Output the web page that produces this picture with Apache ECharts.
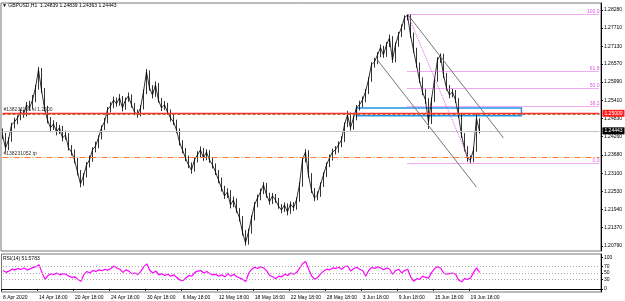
<!DOCTYPE html>
<html>
<head>
<meta charset="utf-8">
<script src="https://cdn.jsdelivr.net/npm/echarts@6/dist/echarts.min.js"></script>
<style>html,body{margin:0;padding:0;background:#fff}#main{width:625px;height:301px}</style>
</head>
<body>
<div id="main"></div>
<script>
// GBPUSD H1 chart, each point = 8 hours
const dateLabels = ['8 Apr 2020', '14 Apr 18:00', '20 Apr 18:00', '24 Apr 18:00', '30 Apr 18:00', '6 May 18:00', '12 May 18:00',
  '18 May 18:00', '22 May 18:00', '28 May 18:00', '3 Jun 18:00', '9 Jun 18:00', '15 Jun 18:00', '19 Jun 18:00'];
const firstOpen = 1.2440;
const closes = [1.2431,1.2390,1.2415,1.2463,1.2473,1.2485,1.2504,1.2495,1.2527,1.2517,
 1.2542,1.2581,1.2638,1.2574,1.2517,1.2479,1.2454,1.2466,1.2441,1.2454,
 1.2422,1.2431,1.2390,1.2377,1.2352,1.2314,1.2276,1.2301,1.2336,1.2352,
 1.2384,1.2396,1.2422,1.2454,1.2473,1.2511,1.2523,1.2542,1.2530,1.2549,
 1.2517,1.2542,1.2555,1.2527,1.2504,1.2495,1.2517,1.2568,1.2631,1.2581,
 1.2558,1.2590,1.2542,1.2517,1.2527,1.2504,1.2485,1.2473,1.2447,1.2409,
 1.2384,1.2358,1.2336,1.2320,1.2352,1.2368,1.2384,1.2358,1.2377,1.2352,
 1.2336,1.2314,1.2289,1.2263,1.2238,1.2250,1.2209,1.2225,1.2193,1.2168,
 1.2123,1.2089,1.2123,1.2168,1.2209,1.2231,1.2250,1.2273,1.2241,1.2219,
 1.2238,1.2225,1.2206,1.2193,1.2209,1.2187,1.2212,1.2200,1.2225,1.2273,
 1.2352,1.2377,1.2304,1.2257,1.2231,1.2241,1.2273,1.2304,1.2336,1.2358,
 1.2377,1.2384,1.2400,1.2415,1.2463,1.2495,1.2454,1.2485,1.2517,1.2527,
 1.2542,1.2568,1.2606,1.2654,1.2663,1.2685,1.2708,1.2685,1.2717,1.2739,
 1.2669,1.2717,1.2749,1.2771,1.2803,1.2812,1.2749,1.2701,1.2654,1.2606,
 1.2568,1.2542,1.2473,1.2542,1.2606,1.2669,1.2685,1.2622,1.2581,1.2558,
 1.2568,1.2542,1.2495,1.2431,1.2390,1.2358,1.2352,1.2384,1.2484,1.2444];
const highs = [1.2452,1.2438,1.2424,1.2470,1.2486,1.2494,1.2515,1.2511,1.2536,1.2540,
 1.2558,1.2590,1.2647,1.2644,1.2580,1.2524,1.2488,1.2478,1.2472,1.2463,
 1.2460,1.2445,1.2437,1.2399,1.2385,1.2358,1.2320,1.2310,1.2345,1.2366,
 1.2392,1.2410,1.2430,1.2462,1.2485,1.2520,1.2536,1.2553,1.2550,1.2561,
 1.2555,1.2550,1.2566,1.2560,1.2533,1.2512,1.2526,1.2575,1.2640,1.2636,
 1.2589,1.2601,1.2596,1.2549,1.2539,1.2533,1.2512,1.2496,1.2480,1.2452,
 1.2415,1.2390,1.2366,1.2344,1.2360,1.2380,1.2395,1.2390,1.2386,1.2383,
 1.2360,1.2341,1.2320,1.2296,1.2270,1.2262,1.2256,1.2236,1.2230,1.2199,
 1.2174,1.2130,1.2134,1.2176,1.2218,1.2242,1.2261,1.2282,1.2279,1.2248,
 1.2247,1.2244,1.2231,1.2212,1.2217,1.2214,1.2220,1.2218,1.2233,1.2282,
 1.2361,1.2386,1.2383,1.2310,1.2263,1.2252,1.2281,1.2313,1.2344,1.2369,
 1.2388,1.2396,1.2411,1.2427,1.2471,1.2508,1.2502,1.2493,1.2526,1.2540,
 1.2553,1.2577,1.2615,1.2662,1.2676,1.2694,1.2718,1.2714,1.2726,1.2750,
 1.2745,1.2725,1.2758,1.2782,1.2811,1.2815,1.2814,1.2756,1.2708,1.2661,
 1.2614,1.2577,1.2548,1.2550,1.2614,1.2678,1.2690,1.2689,1.2628,1.2590,
 1.2578,1.2574,1.2548,1.2501,1.2437,1.2396,1.2366,1.2392,1.2498,1.2484];
const lows = [1.2418,1.2378,1.2383,1.2410,1.2452,1.2465,1.2478,1.2486,1.2490,1.2508,
 1.2512,1.2535,1.2575,1.2565,1.2506,1.2468,1.2440,1.2447,1.2430,1.2434,
 1.2411,1.2416,1.2382,1.2366,1.2341,1.2303,1.2265,1.2270,1.2296,1.2328,
 1.2346,1.2376,1.2389,1.2417,1.2447,1.2468,1.2503,1.2516,1.2521,1.2524,
 1.2506,1.2511,1.2536,1.2518,1.2494,1.2486,1.2490,1.2512,1.2561,1.2572,
 1.2547,1.2552,1.2534,1.2507,1.2510,1.2495,1.2474,1.2463,1.2437,1.2398,
 1.2373,1.2348,1.2326,1.2308,1.2315,1.2344,1.2360,1.2349,1.2351,1.2343,
 1.2325,1.2304,1.2278,1.2252,1.2228,1.2231,1.2198,1.2202,1.2184,1.2156,
 1.2112,1.2080,1.2083,1.2118,1.2160,1.2202,1.2224,1.2244,1.2232,1.2210,
 1.2212,1.2216,1.2197,1.2183,1.2187,1.2176,1.2181,1.2190,1.2194,1.2219,
 1.2267,1.2344,1.2296,1.2247,1.2221,1.2224,1.2235,1.2266,1.2298,1.2329,
 1.2350,1.2369,1.2375,1.2392,1.2409,1.2456,1.2445,1.2448,1.2478,1.2509,
 1.2519,1.2535,1.2561,1.2600,1.2645,1.2656,1.2678,1.2676,1.2679,1.2710,
 1.2660,1.2662,1.2711,1.2742,1.2765,1.2795,1.2740,1.2692,1.2645,1.2596,
 1.2558,1.2530,1.2450,1.2466,1.2536,1.2600,1.2660,1.2612,1.2572,1.2548,
 1.2551,1.2533,1.2485,1.2422,1.2379,1.2346,1.2342,1.2345,1.2378,1.2436];
const rsiValues = [58,52,56,62,60,64,61,66,60,63,
 67,70,76,52,30,42,48,45,50,44,
 48,46,40,36,38,30,24,45,55,50,
 58,55,60,57,62,59,64,72,66,62,
 52,60,56,48,50,45,55,70,79,58,
 50,56,44,48,42,46,40,44,36,28,
 26,34,42,40,52,56,58,50,55,48,
 44,46,40,44,38,48,40,46,38,34,
 30,23,50,62,68,64,70,66,56,42,
 38,32,40,38,46,42,50,46,52,66,
 80,86,62,40,30,36,48,56,62,60,
 66,64,68,62,70,72,56,64,68,62,
 58,40,58,68,64,70,66,60,66,62,
 46,58,62,50,58,62,38,24,32,30,
 40,36,34,52,64,70,66,50,46,48,
 50,46,28,22,32,30,34,52,66,51.5783];
const priceTicks = [1.20790, 1.21370, 1.21940, 1.22530, 1.23100, 1.23680, 1.24260, 1.24830, 1.25410, 1.25990, 1.26570, 1.27130, 1.27710, 1.28280];
const rsiTicks = [0, 30, 50, 70, 100];
const rsiLevels = [30, 50, 70];
const lastBar = [1.24839, 1.24839, 1.24363, 1.24443];
// order lines
const slPrice = 1.2500, entryPrice = 1.2496, tpPrice = 1.2360, bidPrice = 1.24443;
// fibo + channel objects: [index, price]
const fibLevels = [0, 38.2, 50, 61.8, 100];
const fibHigh = [135, 1.2815], fibLow = [156, 1.2342], fibEnd = 199;
const channelUpper = [[135, 1.2815], [167, 1.2422]];
const channelLower = [[125, 1.2669], [158, 1.2266]];
const boxRect = [[118, 1.2517], [173, 1.2492]];

const barCount = 200;
const labelStep = 12;
const cats = Array.from({length: barCount}, (_, i) => 'b' + i);
const labelAt = i => (i % labelStep === 0 ? dateLabels[i / labelStep] : undefined);

const kData = closes.map((c, i) => [i === 0 ? firstOpen : closes[i - 1], c, lows[i], highs[i]]);

const FONT = 'Liberation Sans';
const fibColor = '#e255e2';
const noLabel = {show: false};

// full-width horizontal line from first to last category
function hLine(price, lineStyle, label) {
  return [{coord: [0, price], lineStyle: lineStyle, label: label || noLabel}, {coord: [barCount - 1, price]}];
}

const fibLines = fibLevels.map(lv => {
  const p = fibLow[1] + (fibHigh[1] - fibLow[1]) * lv / 100;
  return [
    {coord: [fibHigh[0], p], lineStyle: {color: fibColor, type: [1, 1], width: 1},
      label: {show: true, position: 'insideEndTop', formatter: lv.toFixed(1), color: fibColor, fontSize: 5, fontFamily: FONT, distance: 0}},
    {coord: [fibEnd, p]}
  ];
});

const rightTag = (text, bg) => ({show: true, position: 'end', formatter: text, backgroundColor: bg, color: '#fff',
  fontSize: 5, padding: [1, 2], distance: 3, fontFamily: FONT});
const leftTag = text => ({show: true, position: 'insideStartTop', formatter: text, color: '#333', fontSize: 5, distance: 1, fontFamily: FONT});

const chart = echarts.init(document.getElementById('main'));
chart.setOption({
  animation: false,
  backgroundColor: '#fff',
  textStyle: {fontFamily: FONT},
  title: [
    {text: '▼ GBPUSD,H1  ' + lastBar.map(v => v.toFixed(5)).join(' '), left: 2, top: 3, padding: 0,
      textStyle: {fontSize: 5, fontWeight: 'normal', color: '#000', fontFamily: FONT}},
    {text: 'RSI(14) ' + rsiValues[rsiValues.length - 1].toFixed(4), left: 3, top: 256, padding: 0,
      textStyle: {fontSize: 5, fontWeight: 'normal', color: '#000', fontFamily: FONT}}
  ],
  grid: [
    {left: 1, right: 24, top: 3, height: 248, show: true, borderColor: '#777', borderWidth: 1},
    {left: 1, right: 24, top: 254, height: 38, show: true, borderColor: '#777', borderWidth: 1}
  ],
  xAxis: [
    {gridIndex: 0, type: 'category', data: cats, boundaryGap: true,
      axisLine: {show: false}, axisTick: {show: false}, axisLabel: {show: false}},
    {gridIndex: 1, type: 'category', data: cats, boundaryGap: true,
      axisLine: {show: true, lineStyle: {color: '#000'}},
      axisTick: {show: true, length: 2, interval: i => labelAt(i) !== undefined, lineStyle: {color: '#000'}},
      axisLabel: {interval: i => labelAt(i) !== undefined, formatter: (v, i) => labelAt(i) || '',
        fontSize: 5, color: '#000', align: 'left', margin: 3, fontFamily: FONT}}
  ],
  yAxis: [
    {gridIndex: 0, type: 'value', position: 'right', min: 1.2063, max: 1.2850,
      splitLine: {show: false},
      axisLine: {show: true, lineStyle: {color: '#000'}},
      axisTick: {show: true, length: 2, customValues: priceTicks, lineStyle: {color: '#000'}},
      axisLabel: {customValues: priceTicks, formatter: v => v.toFixed(5), fontSize: 5, color: '#000', margin: 3, fontFamily: FONT}},
    {gridIndex: 1, type: 'value', position: 'right', min: -10, max: 110,
      splitLine: {show: false},
      axisLine: {show: true, lineStyle: {color: '#000'}},
      axisTick: {show: true, length: 2, customValues: rsiTicks, lineStyle: {color: '#000'}},
      axisLabel: {customValues: rsiTicks, fontSize: 5, color: '#000', margin: 3, fontFamily: FONT}}
  ],
  series: [
    {
      type: 'candlestick', xAxisIndex: 0, yAxisIndex: 0, data: kData, barWidth: 1,
      itemStyle: {color: '#000', color0: '#000', borderColor: '#000', borderColor0: '#000', borderWidth: 0.8},
      markArea: {
        silent: true,
        itemStyle: {color: 'rgba(0,0,0,0)', borderColor: '#2196e8', borderWidth: 1.5},
        data: [[{coord: boxRect[0]}, {coord: boxRect[1]}]]
      },
      markLine: {
        silent: true, symbol: ['none', 'none'],
        data: [
          hLine(bidPrice, {color: '#c4c4c4', type: 'solid', width: 1}, rightTag(bidPrice.toFixed(5), '#000')),
          hLine(tpPrice, {color: '#ff7a2e', type: [6, 2, 1, 2], width: 1.2}, leftTag('#138231052 tp')),
          hLine(entryPrice, {color: '#9a7a2a', type: [3, 2], width: 1}),
          hLine(slPrice, {color: '#ff3030', type: 'solid', width: 1.3}, leftTag('#138231186 sl 1.2500')),
          hLine(slPrice, {color: 'rgba(0,0,0,0)', width: 0}, rightTag(slPrice.toFixed(5), '#ff2020')),
          ...fibLines,
          [{coord: fibHigh, lineStyle: {color: fibColor, type: [1, 1], width: 1}, label: noLabel}, {coord: fibLow}],
          [{coord: channelUpper[0], lineStyle: {color: '#777', type: 'solid', width: 1}, label: noLabel}, {coord: channelUpper[1]}],
          [{coord: channelLower[0], lineStyle: {color: '#777', type: 'solid', width: 1}, label: noLabel}, {coord: channelLower[1]}]
        ]
      }
    },
    {
      type: 'line', xAxisIndex: 0, yAxisIndex: 0, data: closes, showSymbol: false, silent: true,
      lineStyle: {color: '#000', width: 0.8}
    },
    {
      type: 'line', xAxisIndex: 1, yAxisIndex: 1, data: rsiValues, showSymbol: false,
      lineStyle: {color: '#ff00ff', width: 1.2},
      markLine: {
        silent: true, symbol: ['none', 'none'],
        data: rsiLevels.map(v => [
          {coord: [0, v], lineStyle: {color: '#a8a8a8', type: [1, 2], width: 1}, label: noLabel},
          {coord: [barCount - 1, v]}
        ])
      }
    }
  ]
});
</script>
</body>
</html>
